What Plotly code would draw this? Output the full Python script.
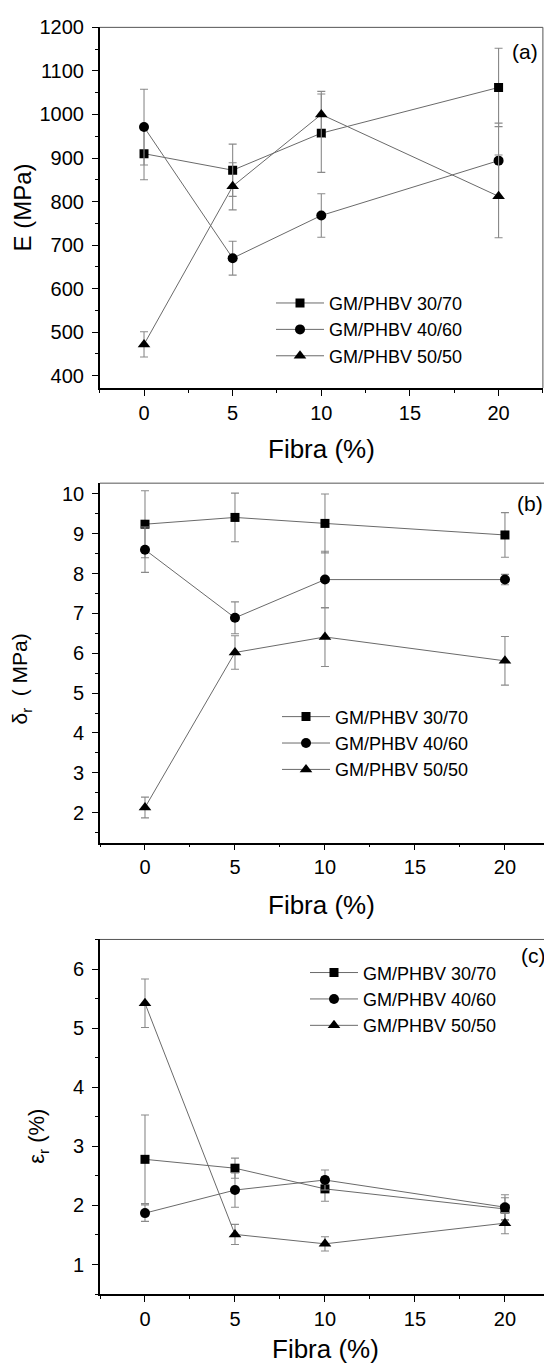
import plotly.graph_objects as go

# ---------------- data ----------------
fibra = [0, 5, 10, 20]
series_names = ["GM/PHBV 30/70", "GM/PHBV 40/60", "GM/PHBV 50/50"]

# (a) Young modulus E (MPa)
E_30_70 = [910, 872, 957, 1062]
E_30_70_err = [60, 60, 90, 90]
E_40_60 = [971, 670, 768, 894]
E_40_60_err = [87, 39, 50, 86]
E_50_50 = [472, 835, 1000, 812]
E_50_50_err = [29, 54, 53, 95]

# (b) tensile strength (MPa)
S_30_70 = [9.24, 9.41, 9.26, 8.97]
S_30_70_err = [0.84, 0.61, 0.74, 0.56]
S_40_60 = [8.60, 6.89, 7.85, 7.85]
S_40_60_err = [0.57, 0.40, 0.71, 0.13]
S_50_50 = [2.13, 6.02, 6.41, 5.81]
S_50_50_err = [0.26, 0.42, 0.74, 0.61]

# (c) elongation at break (%)
e_30_70 = [2.78, 2.63, 2.28, 1.94]
e_30_70_err = [0.75, 0.17, 0.21, 0.19]
e_40_60 = [1.87, 2.26, 2.43, 1.97]
e_40_60_err = [0.14, 0.29, 0.17, 0.21]
e_50_50 = [5.42, 1.51, 1.35, 1.70]
e_50_50_err = [0.41, 0.17, 0.12, 0.18]

x_ticks = [0, 5, 10, 15, 20]
x_title = "Fibra (%)"
y_titles = ["E (MPa)", "δ<sub>r</sub>  ( MPa)", "ε<sub>r</sub> (%)"]
panel_labels = ["(a)", "(b)", "(c)"]

# ---------------- styling ----------------
W, H = 544, 1366
FONT = "Liberation Sans, Arial, sans-serif"
LINE_C = "#6a6a6a"
ERR_C = "#8a8a8a"
symbols = ["square", "circle", "triangle-up"]
msizes = [9, 10, 11]


def fx(p):
    return p / W


def fy(p):
    return 1 - p / H


panels = [
    dict(ax="", values=[(E_30_70, E_30_70_err), (E_40_60, E_40_60_err), (E_50_50, E_50_50_err)],
         xdom=[fx(99.7), fx(542.9)], ydom=[fy(380), fy(16.5)], xrange=[-2.5, 22.5],
         yrange=[372, 1200], ydtick=100, yminor=50, legend="legend",
         leg_xy=(271, 276)),
    dict(ax="2", values=[(S_30_70, S_30_70_err), (S_40_60, S_40_60_err), (S_50_50, S_50_50_err)],
         xdom=[fx(100), 1.0], ydom=[fy(838.3), fy(476)], xrange=[-2.5, 22.17],
         yrange=[1.25, 10.27], ydtick=1, yminor=0.5, legend="legend2",
         leg_xy=(277, 693)),
    dict(ax="3", values=[(e_30_70, e_30_70_err), (e_40_60, e_40_60_err), (e_50_50, e_50_50_err)],
         xdom=[fx(100), 1.0], ydom=[fy(1293.5), fy(936)], xrange=[-2.5, 22.17],
         yrange=[0.5, 6.5], ydtick=1, yminor=0.5, legend="legend3",
         leg_xy=(305, 951)),
]

fig = go.Figure()

for p in panels:
    for i, (vals, errs) in enumerate(p["values"]):
        fig.add_trace(go.Scatter(
            x=fibra, y=vals, name=series_names[i],
            mode="lines+markers",
            line=dict(color=LINE_C, width=1),
            marker=dict(symbol=symbols[i], size=msizes[i], color="black",
                        line=dict(width=0)),
            error_y=dict(type="data", array=errs, visible=True,
                         color=ERR_C, thickness=1.1, width=4),
            xaxis="x" + p["ax"], yaxis="y" + p["ax"],
            legend=p["legend"], legendgroup=p["legend"] + str(i),
            showlegend=True,
        ))

axis_common = dict(showline=True, linecolor="black", linewidth=1.6,
                   ticks="outside", ticklen=6, tickwidth=1.4, tickcolor="black",
                   showgrid=False, zeroline=False, mirror=False,
                   tickfont=dict(size=20, family=FONT, color="black"))

layout = dict(width=W, height=H, margin=dict(l=0, r=0, t=0, b=0),
              paper_bgcolor="white", plot_bgcolor="white",
              font=dict(family=FONT, color="black"))

shapes = []
annotations = []
for k, p in enumerate(panels):
    xa = "xaxis" + p["ax"]
    ya = "yaxis" + p["ax"]
    layout[xa] = dict(axis_common, domain=p["xdom"], range=p["xrange"],
                      anchor="y" + p["ax"], tickmode="array", tickvals=x_ticks,
                      minor=dict(ticks="outside", ticklen=3, tickwidth=1.4,
                                 tickcolor="black", dtick=2.5, tick0=0))
    layout[ya] = dict(axis_common, domain=p["ydom"], range=p["yrange"],
                      anchor="x" + p["ax"], dtick=p["ydtick"], tick0=0,
                      ticklabelstandoff=4,
                      minor=dict(ticks="outside", ticklen=3, tickwidth=1.4,
                                 tickcolor="black", dtick=p["yminor"], tick0=0))
    lx, ly = p["leg_xy"]
    layout[p["legend"]] = dict(x=fx(lx), y=fy(ly), xanchor="left", yanchor="top",
                               bgcolor="rgba(0,0,0,0)", borderwidth=0,
                               font=dict(size=18, family=FONT, color="black"),
                               traceorder="grouped", tracegroupgap=0, itemwidth=48)
    xr = "x" + p["ax"] + " domain"
    yr = "y" + p["ax"] + " domain"
    shapes.append(dict(type="line", xref=xr, yref=yr, x0=0, x1=1, y0=1, y1=1,
                       line=dict(color="#555555", width=1)))
    if k == 0:
        shapes.append(dict(type="line", xref=xr, yref=yr, x0=1, x1=1, y0=0, y1=1,
                           line=dict(color="#555555", width=1)))

title_pos = [(321, 442), (321, 901)]
ytitle_pos = [(22, 198, 24), (21, 674, 21), (38, 1135, 22)]
label_pos = [(525, 41), (530, 496), (533, 952)]
for k in range(3):
    if k < 2:
        tx, ty = title_pos[k]
        annotations.append(dict(text=x_title, x=fx(tx), y=fy(ty), xref="paper", yref="paper",
                                showarrow=False, xanchor="center", yanchor="middle",
                                font=dict(size=26, family=FONT, color="black")))
    else:
        annotations.append(dict(text=x_title, x=fx(325), y=0, xref="paper", yref="paper",
                                showarrow=False, xanchor="center", yanchor="bottom",
                                font=dict(size=26, family=FONT, color="black")))
    yx, yy, ys = ytitle_pos[k]
    annotations.append(dict(text=y_titles[k], x=fx(yx), y=fy(yy), xref="paper", yref="paper",
                            showarrow=False, xanchor="center", yanchor="middle", textangle=-90,
                            font=dict(size=ys, family=FONT, color="black")))
    px_, py_ = label_pos[k]
    annotations.append(dict(text=panel_labels[k], x=fx(px_), y=fy(py_), xref="paper", yref="paper",
                            showarrow=False, xanchor="center", yanchor="middle",
                            font=dict(size=21, family=FONT, color="black")))

layout["shapes"] = shapes
layout["annotations"] = annotations
fig.update_layout(**layout)

fig.write_html("out.html", config={"displayModeBar": False},
               post_script="document.body.style.margin='0';document.body.style.overflow='hidden';")
